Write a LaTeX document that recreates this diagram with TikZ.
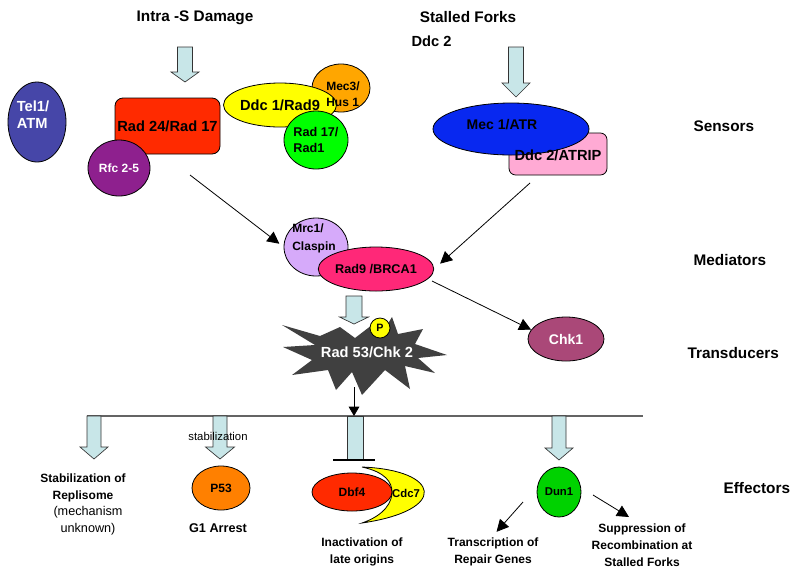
\documentclass[tikz,border=0pt]{standalone}
\usepackage{fontspec}
\setmainfont{Liberation Sans}
\usetikzlibrary{shapes.geometric,arrows.meta}
\newcommand\myfs[2]{\fontsize{#1}{#2}\selectfont}
\newcommand\BlkArr[6]{\draw[blk] ({#1-#5},#2) -- ({#1+#5},#2) -- ({#1+#5},#3) -- ({#1+#6},#3) -- (#1,#4) -- ({#1-#6},#3) -- ({#1-#5},#3) -- cycle;}
\definecolor{telc}{RGB}{70,70,168}
\definecolor{redc}{RGB}{255,42,0}
\definecolor{rfcc}{RGB}{142,32,142}
\definecolor{yelc}{RGB}{255,255,0}
\definecolor{orac}{RGB}{255,166,0}
\definecolor{grnc}{RGB}{0,255,0}
\definecolor{bluc}{RGB}{8,40,240}
\definecolor{pnkc}{RGB}{255,170,212}
\definecolor{lavc}{RGB}{214,170,250}
\definecolor{brcc}{RGB}{255,40,120}
\definecolor{chkc}{RGB}{170,72,120}
\definecolor{starc}{RGB}{64,64,64}
\definecolor{p53c}{RGB}{255,128,0}
\definecolor{dunc}{RGB}{0,210,0}
\definecolor{blkc}{RGB}{200,230,232}
\definecolor{linec}{RGB}{100,100,100}
\begin{document}
\begin{tikzpicture}[x=0.75pt,y=-0.75pt,
  every node/.style={inner sep=1pt},
  shp/.style={ellipse, draw=black, line width=0.6pt, inner sep=0pt},
  rbox/.style={rectangle, draw=black, line width=0.6pt, inner sep=0pt},
  blk/.style={draw=black!80, line width=0.5pt, fill=blkc},
  arr/.style={draw=black, line width=0.6pt, -{Triangle[length=9pt,width=9pt]}},
  arrs/.style={draw=black, line width=0.6pt, -{Triangle[length=7pt,width=8pt]}},
  head/.style={font=\bfseries\myfs{11.5}{14}},
  bt/.style={font=\bfseries\myfs{9}{12.75}, align=center},
  nt/.style={font=\myfs{9.5}{12.75}, align=center},
]
\useasboundingbox (0,0) rectangle (791,572);

% headings
\node[head] (intra) at (195,18) {Intra -S Damage};
\node[head] (stalled) at (468,17) {Stalled Forks};
\node[head, font=\bfseries\myfs{11}{13}, anchor=west] (ddc2h) at (410,41) {Ddc 2};
\node[head, anchor=west] (sensors) at (692,126) {Sensors};
\node[head, anchor=west] (mediators) at (692,260) {Mediators};
\node[head, anchor=west] (transducers) at (686,353) {Transducers};
\node[head, anchor=west] (effectors) at (722,488) {Effectors};

% input block arrows
\BlkArr{185}{47}{72}{82}{7.5}{14}
\BlkArr{516}{47}{83}{97}{7.5}{14}

% sensors left
\node[shp, fill=telc, minimum width=43.5pt, minimum height=60pt] (tel) at (37,122) {};
\node[font=\bfseries\myfs{11}{12.75}, text=white, align=left] (telt) at (33,115) {Tel1/\\ATM};
\node[rbox, rounded corners=6pt, fill=redc, minimum width=78.75pt, minimum height=42pt, font=\bfseries\myfs{11}{13}] (rad24) at (167.5,126) {Rad 24/Rad 17};
\node[shp, fill=rfcc, minimum width=46.5pt, minimum height=42pt, text=white, font=\bfseries\myfs{9}{11}] (rfc) at (119,168) {Rfc 2-5};
\node[shp, fill=orac, minimum width=43.5pt, minimum height=36pt] (mec3) at (341,88) {};
\node[shp, fill=yelc, minimum width=70.5pt, minimum height=33pt, font=\bfseries\myfs{11}{13}] (ddc1) at (280,105) {Ddc 1/Rad9};
\node[shp, fill=grnc, minimum width=48pt, minimum height=43.5pt, font=\bfseries\myfs{9.5}{12}, align=left] (rad17) at (316,140) {Rad 17/\\Rad1};
\node[font=\bfseries\myfs{9}{12}, align=left] (mec3t) at (343,94) {Mec3/\\Hus 1};

% sensors right
\node[rbox, rounded corners=5pt, fill=pnkc, minimum width=73.5pt, minimum height=31.5pt] (ddc2) at (558,154) {};
\node[shp, fill=bluc, minimum width=117pt, minimum height=39pt] (mec1) at (511,129) {};
\node[font=\bfseries\myfs{10.5}{13}] (mec1t) at (502,125) {Mec 1/ATR};
\node[font=\bfseries\myfs{11}{13}] (ddc2t) at (558,155) {Ddc 2/ATRIP};

% mediators
\node[shp, fill=lavc, minimum width=48pt, minimum height=43.5pt] (mrc1) at (316,247) {};
\node[shp, fill=brcc, minimum width=75pt, minimum height=33pt, font=\bfseries\myfs{9.5}{12}] (rad9) at (376,269) {Rad9 /BRCA1};
\node[font=\bfseries\myfs{9}{13.5}, align=left] (mrc1t) at (314,238) {Mrc1/\\Claspin};

\coordinate (a1s) at (190,175);
\coordinate (a2s) at (530,183);
\coordinate (a3s) at (432,281);
\draw[arr, shorten >=4pt] (a1s) -- (mrc1.west);
\draw[arr, shorten >=6pt] (a2s) -- (rad9.east);

% transducers
\fill[starc] (282,325) -- (320,336) -- (340,327) -- (355,338) -- (372,325) -- (381,335)
  -- (392,317) -- (398,334) -- (423,329) -- (415,344) -- (447,355) -- (418,358)
  -- (435,373) -- (405,366) -- (410,389) -- (385,370) -- (362,395) -- (352,372)
  -- (336,390) -- (328,370) -- (292,375) -- (312,360) -- (283,347) -- (315,345) -- cycle;
\BlkArr{354}{296}{317}{324}{8}{14.5}
\node[font=\bfseries\myfs{11}{13}, text=white] (rad53) at (367,352) {Rad 53/Chk 2};
\node[circle, draw=black, line width=0.6pt, fill=yelc, minimum size=15pt, inner sep=0pt, font=\bfseries\myfs{8}{10}] (p) at (380,328) {P};
\node[shp, fill=chkc, minimum width=57pt, minimum height=33pt, text=white, font=\bfseries\myfs{10.5}{13}] (chk1) at (566,339) {Chk1};
\draw[arr] (a3s) -- (chk1.165);

% effector bus
\coordinate (hlL) at (87,416);
\coordinate (hlR) at (643,416);
\coordinate (sb) at (354,387);
\coordinate (hm) at (354,416);
\draw[linec, line width=1pt] (hlL) -- (hlR);
\draw[arrs] (sb) -- (hm);

\BlkArr{94}{416}{447}{459}{7}{14}
\BlkArr{220}{416}{447}{459}{7}{14.5}
\BlkArr{559}{416}{448}{460}{7}{14}
\draw[blk] (347,416) rectangle (363,460);
\coordinate (tbL) at (333,460);
\coordinate (tbR) at (375,460);
\draw[black, line width=0.8pt] (tbL) -- (tbR);

% effectors
\node[bt] (stab) at (83,487.5) {Stabilization of\\Replisome};
\node[nt] (mech) at (88,520.5) {(mechanism\\unknown)};
\node[font=\myfs{8.5}{10}] (stabil) at (218,436) {stabilization};
\node[shp, fill=p53c, minimum width=43.5pt, minimum height=33pt, font=\bfseries\myfs{9}{11}] (p53) at (221,488) {P53};
\node[bt, font=\bfseries\myfs{9.5}{12}] (g1) at (218,528) {G1 Arrest};

\draw[draw=black, line width=0.6pt, fill=yelc] (362,467) .. controls (440,470) and (450,510) .. (362,523)
  .. controls (385,515) and (392,502) .. (392,492) .. controls (392,482) and (385,472) .. (362,467) -- cycle;
\node[shp, fill=redc, minimum width=60pt, minimum height=28.5pt, font=\bfseries\myfs{9}{11}] (dbf4) at (352,492) {Dbf4};
\node[font=\bfseries\myfs{8.5}{10}] (cdc7) at (406,493) {Cdc7};
\node[bt] (inact) at (362,551.5) {Inactivation of\\late origins};

\node[shp, fill=dunc, minimum width=33pt, minimum height=37.5pt, font=\bfseries\myfs{8.5}{10}] (dun1) at (559,492) {Dun1};
\node[bt] (trans) at (493,551.5) {Transcription of\\Repair Genes};
\node[bt] (supp) at (642,545) {Suppression of\\Recombination at\\Stalled Forks};
\coordinate (d1s) at (523,502);
\coordinate (d2s) at (593,495);
\coordinate (d2e) at (629,517);
\draw[arr, shorten >=4pt] (d1s) -- (trans.north);
\draw[arr] (d2s) -- (d2e);
\end{tikzpicture}
\end{document}
